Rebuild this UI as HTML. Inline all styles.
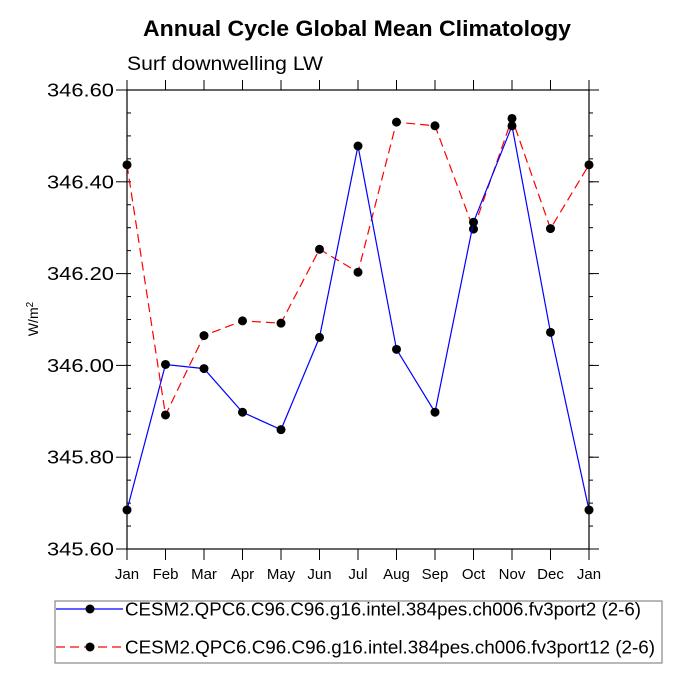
<!DOCTYPE html>
<html><head><meta charset="utf-8"><style>
body{margin:0;background:#fff;font-family:"Liberation Sans",Arial,sans-serif}
</style></head><body>
<svg width="682" height="682" viewBox="0 0 682 682" xmlns="http://www.w3.org/2000/svg" font-family="Liberation Sans, Arial, sans-serif">
<text x="143" y="36" font-size="22" font-weight="bold" textLength="428" lengthAdjust="spacingAndGlyphs">Annual Cycle Global Mean Climatology</text>
<text x="127" y="70" font-size="19" textLength="196" lengthAdjust="spacingAndGlyphs">Surf downwelling LW</text>
<text transform="translate(38,319) rotate(-90)" text-anchor="middle" font-size="14">W/m<tspan dy="-5" font-size="10">2</tspan></text>
<g id="axes"></g>
<g id="series"></g>
<rect x="55" y="601" width="607" height="62" fill="none" stroke="#888" stroke-width="1.2"/>
<g>
<line x1="56" y1="609" x2="123" y2="609" stroke="#0000ff" stroke-width="1.2"/>
<circle cx="90" cy="609" r="4.5" fill="#000"/>
<text x="125" y="615.5" font-size="18" textLength="516" lengthAdjust="spacingAndGlyphs">CESM2.QPC6.C96.C96.g16.intel.384pes.ch006.fv3port2 (2-6)</text>
</g>
<g>
<line x1="56" y1="647" x2="123" y2="647" stroke="#ff0000" stroke-width="1.2" stroke-dasharray="9,5"/>
<circle cx="90" cy="647" r="4.5" fill="#000"/>
<text x="125" y="653.5" font-size="18" textLength="530" lengthAdjust="spacingAndGlyphs">CESM2.QPC6.C96.C96.g16.intel.384pes.ch006.fv3port12 (2-6)</text>
</g>
</svg>
<script>
const months=["Jan","Feb","Mar","Apr","May","Jun","Jul","Aug","Sep","Oct","Nov","Dec","Jan"];
const yTicks=[345.6,345.8,346.0,346.2,346.4,346.6];
const port2=[345.685,346.002,345.993,345.898,345.860,346.061,346.478,346.035,345.898,346.312,346.522,346.072,345.685];
const port12=[346.437,345.892,346.065,346.097,346.092,346.253,346.203,346.530,346.522,346.297,346.538,346.298,346.437];
const X0=127,X1=589,Y0=549,Y1=90,YMIN=345.6,YMAX=346.6;
const xs=i=>X0+(X1-X0)*i/(months.length-1);
const ys=v=>Y0-(v-YMIN)/(YMAX-YMIN)*(Y0-Y1);
const NS="http://www.w3.org/2000/svg";
function mk(t,a,p){const e=document.createElementNS(NS,t);for(const k in a)e.setAttribute(k,a[k]);p.appendChild(e);return e;}
const ax=document.getElementById('axes');
const frame=mk('rect',{x:X0,y:Y1,width:X1-X0,height:Y0-Y1,fill:'none',stroke:'#000','stroke-width':1.2},ax);


months.forEach((m,i)=>{
  const x=xs(i);
  mk('line',{x1:x,y1:Y0,x2:x,y2:Y0+11,stroke:'#000','stroke-width':1},ax);
  mk('line',{x1:x,y1:Y1,x2:x,y2:Y1-10,stroke:'#000','stroke-width':1},ax);
  const t=mk('text',{x:x,y:Y0+30,'text-anchor':'middle','font-size':'15'},ax);
  t.textContent=m;
  
  
});
for(let v=YMIN;v<=YMAX+1e-9;v+=0.05){
  const y=ys(v);
  mk('line',{x1:X0,y1:y,x2:X0+4,y2:y,stroke:'#000'},ax);
  mk('line',{x1:X1,y1:y,x2:X1+4,y2:y,stroke:'#000'},ax);
}
yTicks.forEach(v=>{
  const y=ys(v);
  mk('line',{x1:X0-11,y1:y,x2:X0,y2:y,stroke:'#000'},ax);
  mk('line',{x1:X1,y1:y,x2:X1+10,y2:y,stroke:'#000'},ax);
  const t=mk('text',{x:X0-13,y:y+6.5,'text-anchor':'end','font-size':'18',textLength:'67',lengthAdjust:'spacingAndGlyphs'},ax);
  t.textContent=v.toFixed(2);
  
  
});
const sg=document.getElementById('series');
function series(vals,color,dash,name){
  const g=mk('g',{},sg);
  
  
  const pts=vals.map((v,i)=>xs(i)+','+ys(v)).join(' ');
  const a={points:pts,fill:'none',stroke:color,'stroke-width':1.2};
  if(dash)a['stroke-dasharray']=dash;
  mk('polyline',a,g);
  vals.forEach((v,i)=>{
    const c=mk('circle',{cx:xs(i),cy:ys(v),r:4.5,fill:'#000'},g);
    
    
  });
}
series(port12,'#ff0000','9,5','series-port12');
series(port2,'#0000ff',null,'series-port2');
</script>
</body></html>
